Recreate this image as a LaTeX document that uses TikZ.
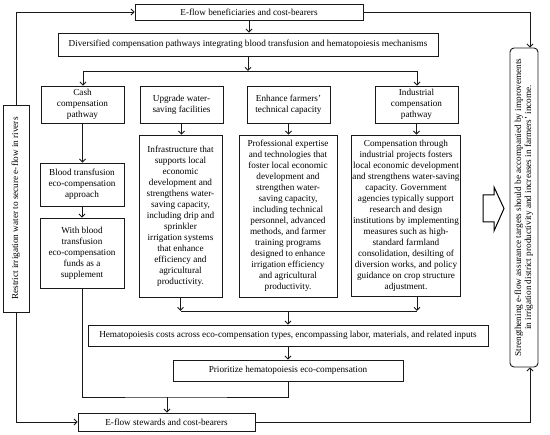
\documentclass[tikz,border=0pt]{standalone}
\usepackage{fontspec}
\setmainfont{Liberation Serif}
\usetikzlibrary{arrows.meta}
\begin{document}
\begin{tikzpicture}[x=1pt,y=-1pt,
  box/.style={draw=black!90, line width=0.9pt, inner sep=1pt, align=center,
    font=\fontsize{9.2}{11}\selectfont},
  lbl/.style={inner sep=0pt, align=center, font=\fontsize{9.2}{11}\selectfont},
  arr/.style={draw=black!90, line width=0.9pt, -{Straight Barb[length=3pt,width=6pt]}},
  ln/.style={draw=black!90, line width=0.9pt}]
\useasboundingbox (0,0) rectangle (550,435);
% nodes
\node[box, minimum width=228pt, minimum height=16pt] (top) at (249,12) {E-flow beneficiaries and cost-bearers};
\node[box, minimum width=380pt, minimum height=23pt] (div) at (248,44.5) {Diversified compensation pathways integrating blood transfusion and hematopoiesis mechanisms};
\node[box, minimum width=83pt, minimum height=37pt] (cash) at (82.5,104.5) {Cash\\compensation\\pathway};
\node[box, minimum width=83pt, minimum height=37pt] (upg) at (181.5,104.5) {Upgrade water-\\saving facilities};
\node[box, minimum width=83pt, minimum height=37pt] (enh) at (288.5,104.5) {Enhance farmers'\\technical capacity};
\node[box, minimum width=83pt, minimum height=37pt] (ind) at (416.5,104.5) {Industrial\\compensation\\pathway};
\node[box, minimum width=84pt, minimum height=43pt] (blood) at (82,184.5) {Blood transfusion\\eco-compensation\\approach};
\node[box, minimum width=84pt, minimum height=70pt] (with) at (82,253) {With blood\\transfusion\\eco-compensation\\funds as a\\supplement};
\node[box, minimum width=83pt, minimum height=162pt] (infra) at (180.5,216) {Infrastructure that\\supports local\\economic\\development and\\strengthens water-\\saving capacity,\\including drip and\\sprinkler\\irrigation systems\\that enhance\\efficiency and\\agricultural\\productivity.};
\node[box, minimum width=98pt, minimum height=162pt] (prof) at (288,216) {Professional expertise\\and technologies that\\foster local economic\\development and\\strengthen water-\\saving capacity,\\including technical\\personnel, advanced\\methods, and farmer\\training programs\\designed to enhance\\irrigation efficiency\\and agricultural\\productivity.};
\node[box, minimum width=104pt, minimum height=161pt] (comp) at (406,215.5) {Compensation through\\industrial projects fosters\\local economic development\\and strengthens water-saving\\capacity. Government\\agencies typically support\\research and design\\institutions by implementing\\measures such as high-\\standard farmland\\consolidation, desilting of\\diversion works, and policy\\guidance on crop structure\\adjustment.};
\node[box, minimum width=400pt, minimum height=21pt] (hema) at (288,335.5) {Hematopoiesis costs across eco-compensation types, encompassing labor, materials, and related inputs};
\node[box, minimum width=230pt, minimum height=21pt] (prior) at (288,370.5) {Prioritize hematopoiesis eco-compensation};
\node[box, minimum width=177pt, minimum height=18pt] (stew) at (166.5,422) {E-flow stewards and cost-bearers};
\node[box, minimum width=26pt, minimum height=207pt] (left) at (16,208.5) {};
\node[lbl, rotate=90] at (left.center) {Restrict irrigation water to secure e-flow in rivers};
\node[box, rounded corners=4pt, minimum width=28pt, minimum height=319pt] (right) at (524,207.5) {};
\node[lbl, rotate=90, font=\fontsize{9.2}{10}\selectfont] at (right.center) {Strengthening e-flow assurance targets should be accompanied by improvements\\in irrigation district productivity and increases in farmers' income.};
% coordinates
\coordinate (bl) at (83,71);
\coordinate (br) at (417,71);
\coordinate (ml) at (181,311);
\coordinate (mr) at (417,311);
\coordinate (bj) at (167,397);
% connectors
\draw[arr] (top.south) -- (top.south |- div.north);
\draw[arr] (div.south) -- (div.south |- bl);
\draw[ln] (bl) -- (br);
\draw[arr] (bl) -- (bl |- cash.north);
\draw[arr] (br) -- (br |- ind.north);
\draw[arr] (cash.south) -- (cash.south |- blood.north);
\draw[arr] (blood.south) -- (blood.south |- with.north);
\draw[arr] (upg.south) -- (upg.south |- infra.north);
\draw[arr] (enh.south) -- (enh.south |- prof.north);
\draw[arr] (ind.south) -- (ind.south |- comp.north);
\draw[arr] (infra.south) -- (infra.south |- ml);
\draw[arr] (mr |- comp.south) -- (mr);
\draw[ln] (ml) -- (mr);
\draw[arr] (hema.north |- ml) -- (hema.north);
\draw[arr] (hema.south) -- (prior.north);
\draw[ln] (with.south) |- (bj) -| (prior.south);
\draw[arr] (bj) -- (bj |- stew.north);
\draw[arr] (left.north) |- (top.west);
\draw[arr] (left.south) |- (stew.west);
\draw[arr] (top.east) -| ([xshift=6pt]right.north);
\draw[arr] (stew.east) -| ([xshift=6pt]right.south);
% big arrow
\draw[line width=1pt, line join=miter] (483,195) -- (494,195) -- (494,187) -- (504,208.5) -- (494,231) -- (494,222) -- (483,222) -- cycle;
\end{tikzpicture}
\end{document}
